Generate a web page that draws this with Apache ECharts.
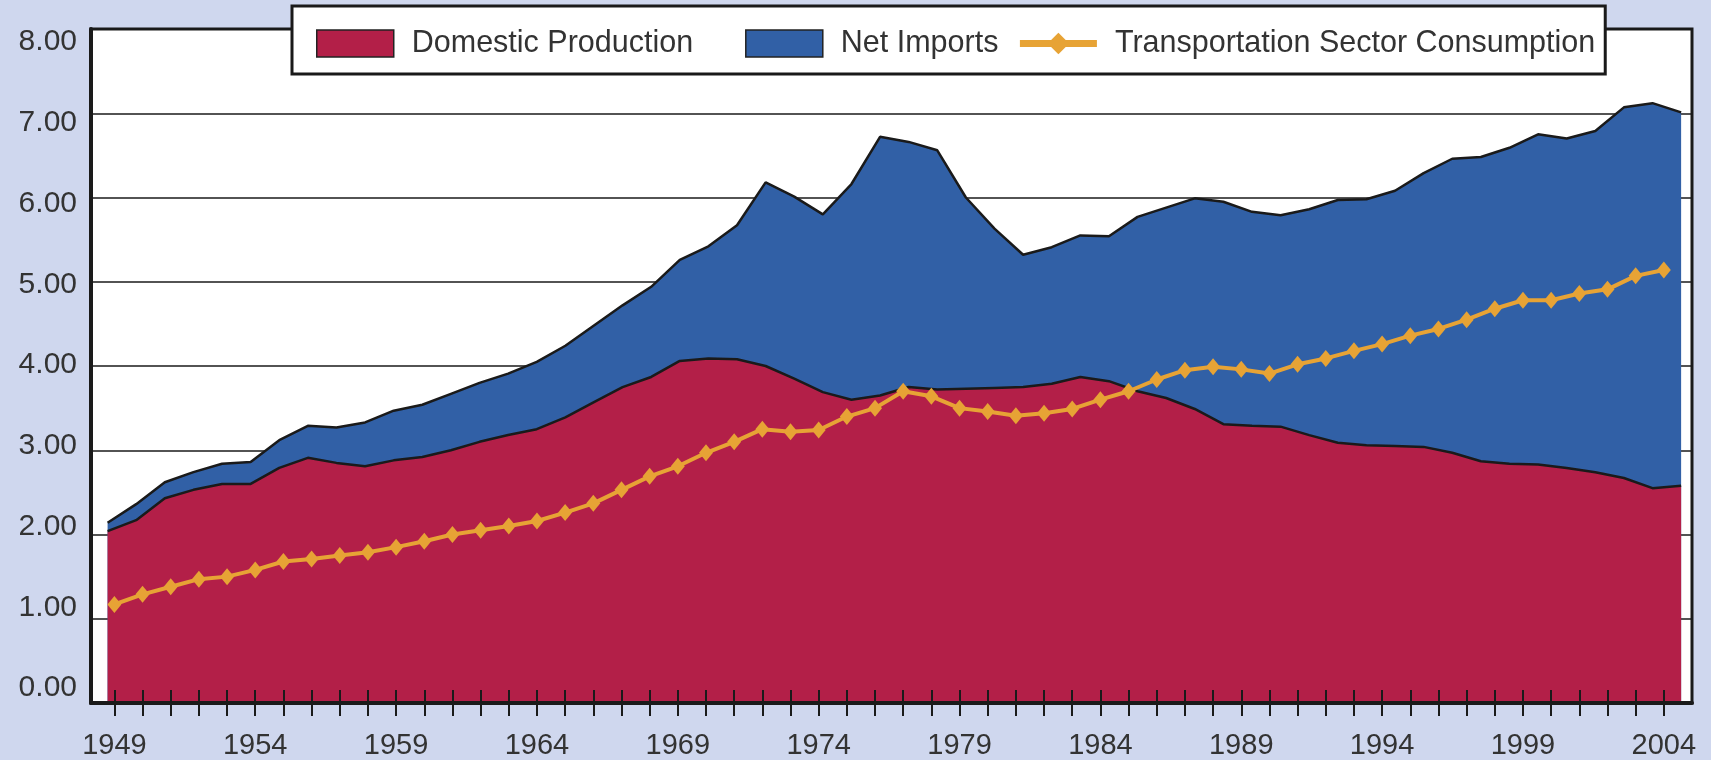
<!DOCTYPE html>
<html>
<head>
<meta charset="utf-8">
<script src="https://cdn.jsdelivr.net/npm/echarts@6/dist/echarts.min.js"></script>
<style>
  html, body { margin: 0; padding: 0; background: #cfd7ee; }
  #chart { width: 1711px; height: 760px; }
</style>
</head>
<body>
<div id="chart"></div>
<script>
// Years on the horizontal axis
const years = [
  1949, 1950, 1951, 1952, 1953, 1954, 1955, 1956, 1957, 1958,
  1959, 1960, 1961, 1962, 1963, 1964, 1965, 1966, 1967, 1968,
  1969, 1970, 1971, 1972, 1973, 1974, 1975, 1976, 1977, 1978,
  1979, 1980, 1981, 1982, 1983, 1984, 1985, 1986, 1987, 1988,
  1989, 1990, 1991, 1992, 1993, 1994, 1995, 1996, 1997, 1998,
  1999, 2000, 2001, 2002, 2003, 2004
];
const labelYears = [1949, 1954, 1959, 1964, 1969, 1974, 1979, 1984, 1989, 1994, 1999, 2004];

// Petroleum supply (stacked) and transportation use
const domesticProduction = [
  2.04, 2.17, 2.43, 2.53, 2.60, 2.60, 2.79, 2.91, 2.85, 2.81,
  2.88, 2.92, 3.00, 3.10, 3.18, 3.25, 3.39, 3.57, 3.75, 3.87,
  4.06, 4.09, 4.08, 4.00, 3.85, 3.69, 3.60, 3.65, 3.75, 3.72,
  3.73, 3.74, 3.75, 3.79, 3.87, 3.82, 3.70, 3.62, 3.49, 3.31,
  3.29, 3.28, 3.18, 3.09, 3.06, 3.05, 3.04, 2.97, 2.87, 2.84,
  2.83, 2.79, 2.74, 2.67, 2.55, 2.58
];
const netImports = [
  0.10, 0.19, 0.19, 0.21, 0.24, 0.26, 0.33, 0.38, 0.42, 0.52,
  0.59, 0.62, 0.67, 0.70, 0.73, 0.80, 0.85, 0.91, 0.97, 1.07,
  1.20, 1.33, 1.59, 2.18, 2.16, 2.11, 2.56, 3.07, 2.91, 2.84,
  2.27, 1.89, 1.57, 1.62, 1.68, 1.72, 2.07, 2.26, 2.50, 2.64,
  2.54, 2.51, 2.68, 2.88, 2.92, 3.03, 3.25, 3.49, 3.61, 3.75,
  3.92, 3.91, 4.05, 4.40, 4.57, 4.43
];
const transportationConsumption = [
  1.17, 1.29, 1.38, 1.47, 1.50, 1.58, 1.68, 1.71, 1.75, 1.79,
  1.85, 1.92, 2.00, 2.05, 2.10, 2.16, 2.26, 2.37, 2.53, 2.69,
  2.81, 2.97, 3.10, 3.25, 3.22, 3.24, 3.40, 3.50, 3.70, 3.64,
  3.50, 3.46, 3.41, 3.44, 3.49, 3.60, 3.70, 3.84, 3.95, 3.99,
  3.96, 3.91, 4.02, 4.09, 4.18, 4.26, 4.36, 4.44, 4.55, 4.68,
  4.78, 4.78, 4.86, 4.91, 5.07, 5.14
];

const RED = '#b31f48';
const BLUE = '#3160a6';
const ORANGE = '#e7a335';
const INK = '#1a1a1a';
const TEXT = '#333333';
const FONT = '"Liberation Sans", Arial, Helvetica, sans-serif';

// Top of the blue band = production + imports
const supplyTotal = netImports.map((v, i) => +(v + domesticProduction[i]).toFixed(2));

const chart = echarts.init(document.getElementById('chart'), null, { renderer: 'canvas' });

chart.setOption({
  animation: false,
  backgroundColor: '#cfd7ee',
  textStyle: { fontFamily: FONT },
  legend: {
    left: 292,
    top: 6,
    orient: 'horizontal',
    padding: [22, 10, 15, 24],
    itemWidth: 77,
    itemHeight: 27,
    itemGap: 18,
    backgroundColor: '#ffffff',
    borderColor: INK,
    borderWidth: 3,
    borderRadius: 0,
    selectedMode: false,
    textStyle: { fontSize: 30.5, color: TEXT, fontFamily: FONT, padding: [0, 0, 0, 13] },
    // wider space after the first entry
    formatter: name => (name === 'Domestic Production' ? name + '    ' : name),
    data: [
      { name: 'Domestic Production', icon: 'rect',
        itemStyle: { borderColor: '#222', borderWidth: 1.5 } },
      { name: 'Net Imports', icon: 'rect',
        itemStyle: { borderColor: '#222', borderWidth: 1.5 } },
      { name: 'Transportation Sector Consumption',
        lineStyle: { width: 7 } }
    ]
  },
  grid: [
    { left: 91, right: 19, top: 29, bottom: 56, show: true,
      backgroundColor: '#ffffff', borderColor: INK, borderWidth: 3 },
    // holds the value labels of the vertical axis
    { left: 91, right: 19, top: 42, bottom: 72, show: false }
  ],
  xAxis: [
    { // year axis: labels, outer ticks, base line
      gridIndex: 0, type: 'value', position: 'bottom', min: 1948.17, max: 2005, z: 10,
      axisLine: { show: true, onZero: false, lineStyle: { color: INK, width: 4 } },
      axisTick: { show: true, customValues: years, length: 13, lineStyle: { color: INK, width: 2 } },
      axisLabel: { show: true, customValues: labelYears, fontSize: 29, color: TEXT, margin: 28,
                   fontFamily: FONT, formatter: v => String(v) },
      splitLine: { show: false }
    },
    { // axis used by the two filled bands
      gridIndex: 0, type: 'value', position: 'bottom', min: 1948.42, max: 2004.38, show: false
    },
    { // inner half of the year ticks
      gridIndex: 0, type: 'value', position: 'bottom', min: 1948.17, max: 2005, z: 10,
      axisLine: { show: false, onZero: false },
      axisTick: { show: true, inside: true, customValues: years, length: 13, lineStyle: { color: INK, width: 2 } },
      axisLabel: { show: false },
      splitLine: { show: false }
    },
    { gridIndex: 1, type: 'value', min: 0, max: 1, show: false }
  ],
  yAxis: [
    {
      gridIndex: 0, type: 'value', position: 'left', min: 0, max: 8, interval: 1,
      axisLine: { show: true, onZero: false, lineStyle: { color: INK, width: 4 } },
      axisTick: { show: false },
      axisLabel: { show: false },
      splitLine: { show: true, lineStyle: { color: INK, width: 1.5 } }
    },
    {
      gridIndex: 1, type: 'value', position: 'left', min: 0, max: 8, interval: 1,
      axisLine: { show: false },
      axisTick: { show: false },
      splitLine: { show: false },
      axisLabel: { fontSize: 30, color: TEXT, margin: 14, fontFamily: FONT,
                   formatter: v => v.toFixed(2) }
    }
  ],
  series: [
    {
      name: 'Net Imports',
      type: 'line',
      xAxisIndex: 1, yAxisIndex: 0,
      data: years.map((y, i) => [y, supplyTotal[i]]),
      symbol: 'none',
      itemStyle: { color: BLUE },
      lineStyle: { color: INK, width: 2.5 },
      areaStyle: { color: BLUE, opacity: 1 },
      z: 2
    },
    {
      name: 'Domestic Production',
      type: 'line',
      xAxisIndex: 1, yAxisIndex: 0,
      data: years.map((y, i) => [y, domesticProduction[i]]),
      symbol: 'none',
      itemStyle: { color: RED },
      lineStyle: { color: INK, width: 2.5 },
      areaStyle: { color: RED, opacity: 1 },
      z: 3
    },
    {
      name: 'Transportation Sector Consumption',
      type: 'line',
      xAxisIndex: 0, yAxisIndex: 0,
      data: years.map((y, i) => [y, transportationConsumption[i]]),
      symbol: 'diamond',
      symbolSize: [14, 17],
      itemStyle: { color: ORANGE },
      lineStyle: { color: ORANGE, width: 4 },
      z: 5
    }
  ]
});
</script>
</body>
</html>
